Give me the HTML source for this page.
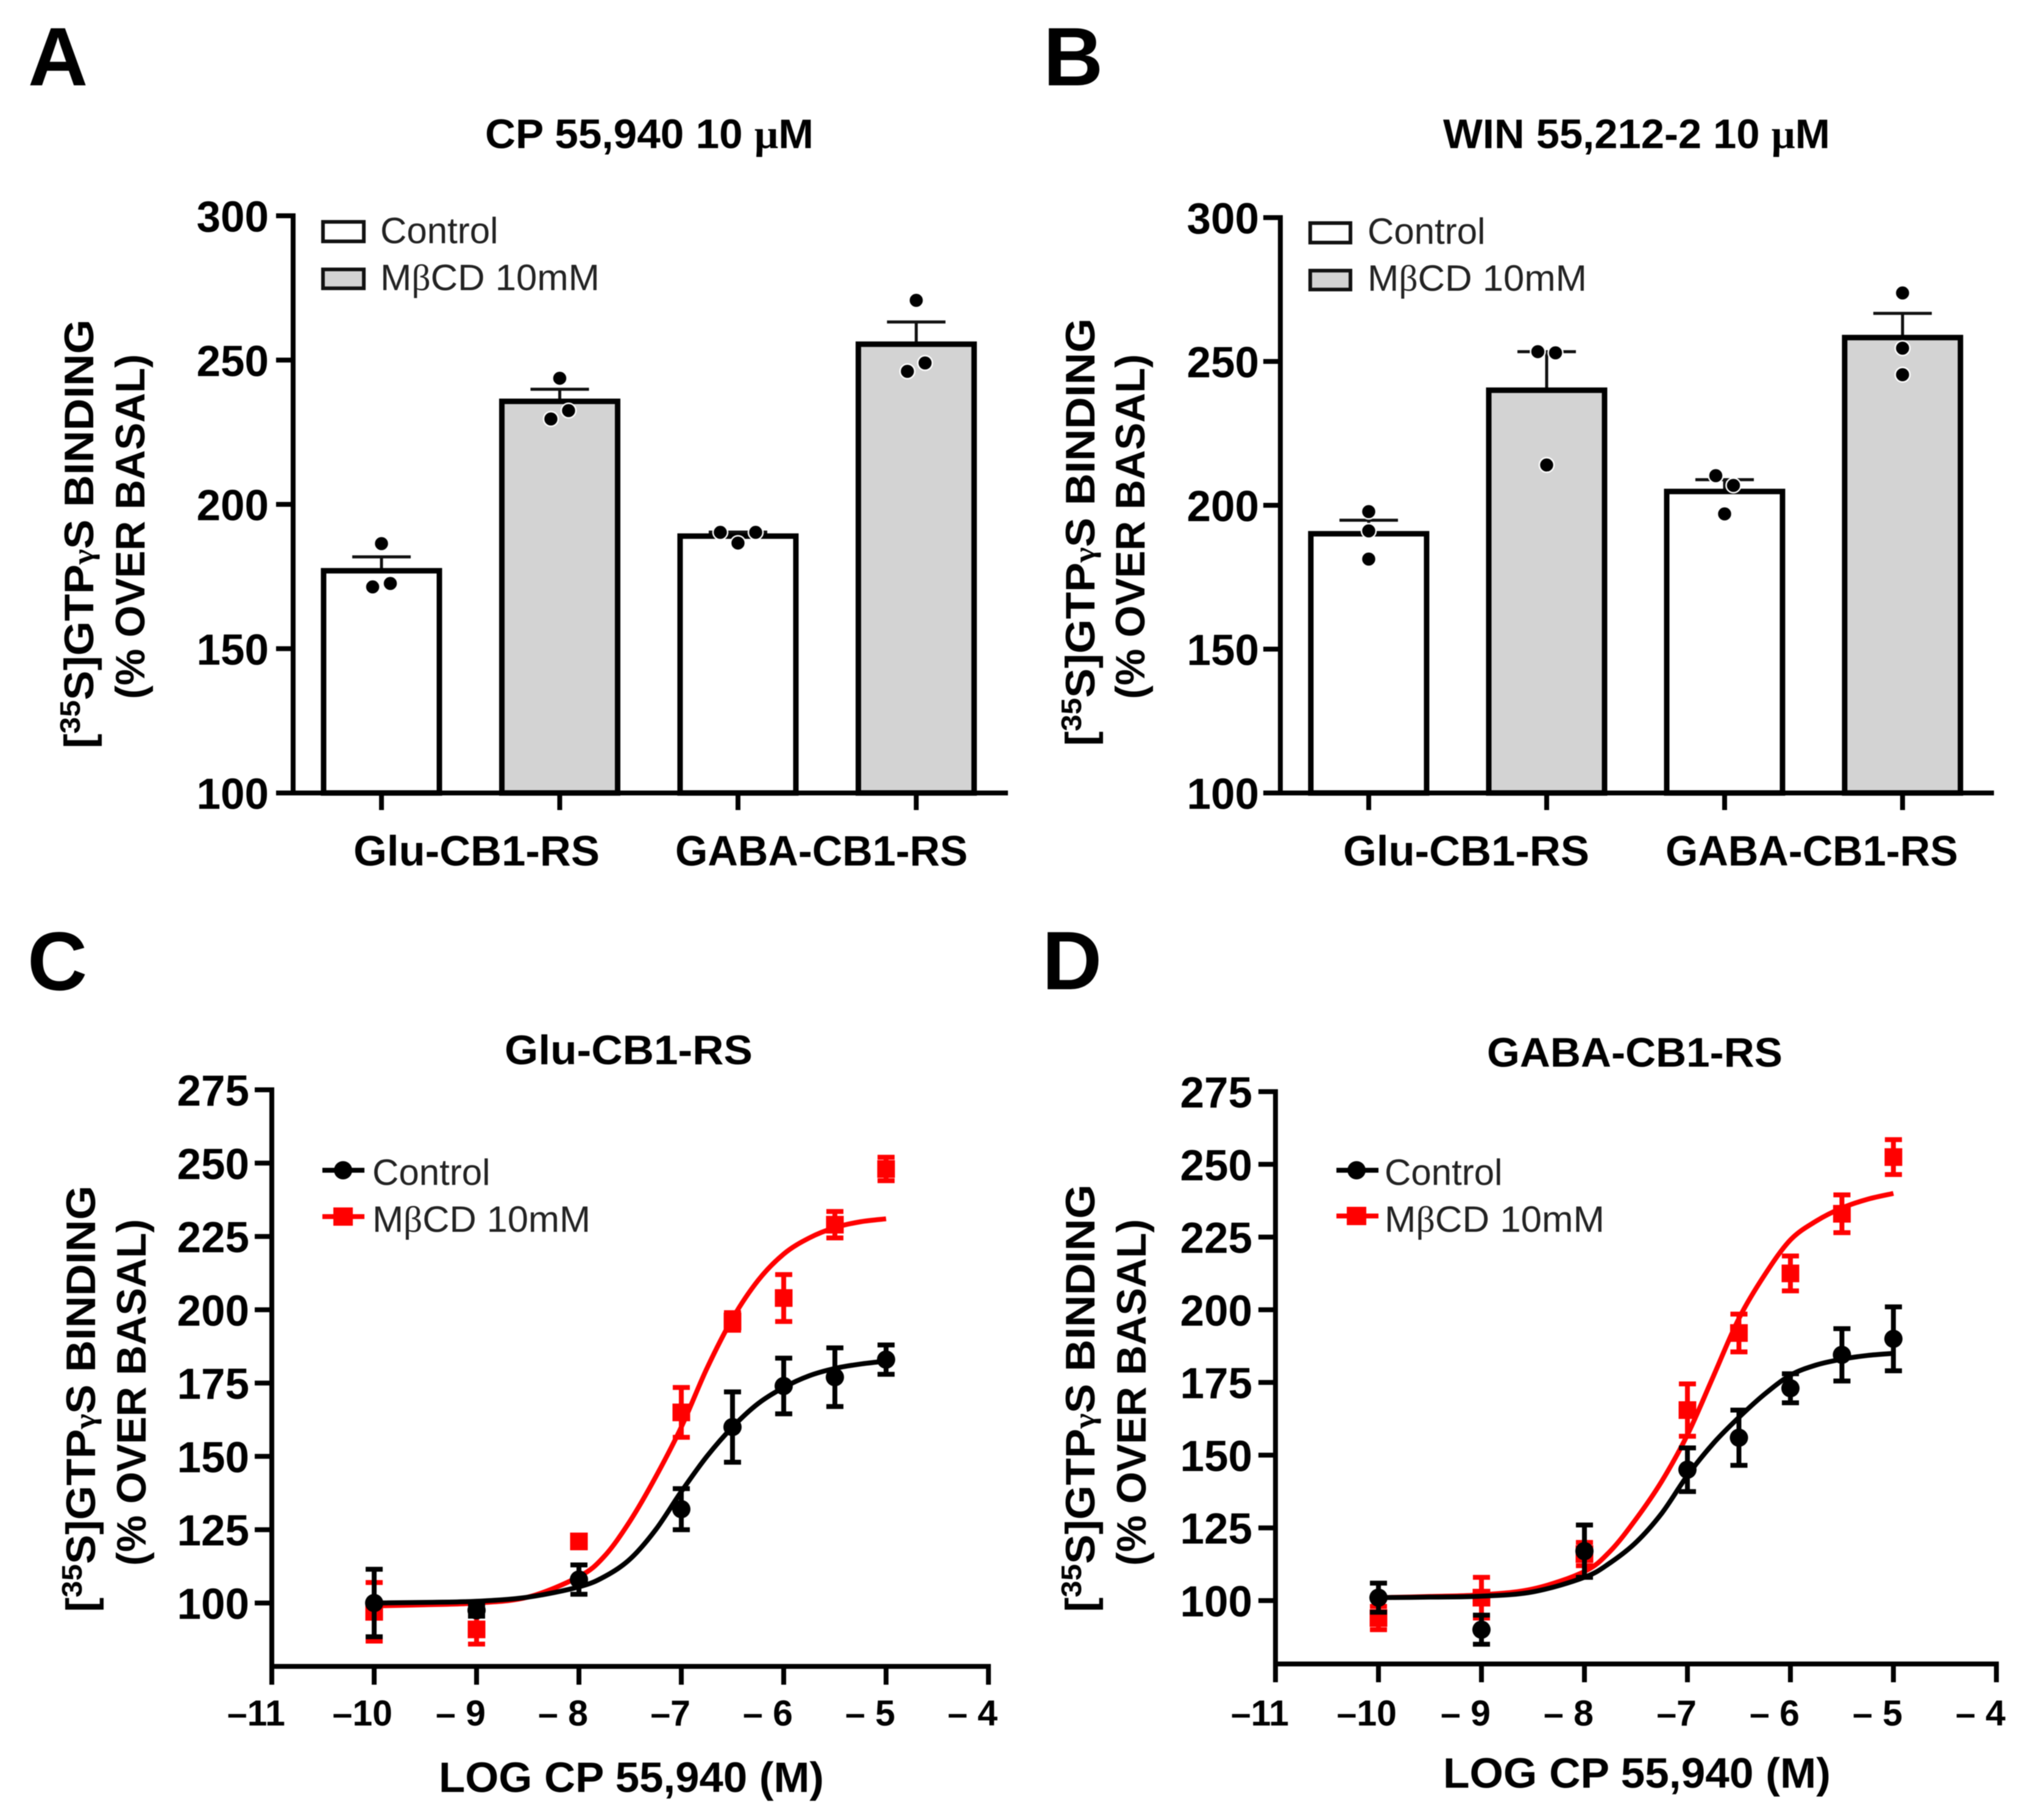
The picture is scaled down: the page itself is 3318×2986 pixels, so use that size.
<!DOCTYPE html>
<html lang="en">
<head>
<meta charset="utf-8">
<title>GTPγS binding figure</title>
<style>
html,body{margin:0;padding:0;background:#fff;}
svg{display:block;filter:blur(0.7px);}
text{font-family:"Liberation Sans",sans-serif;fill:#000;}
.b{font-weight:700;}
.s{font-family:"Liberation Serif",serif;}
</style>
</head>
<body>
<svg id="fig" xmlns="http://www.w3.org/2000/svg" width="3318" height="2986" viewBox="0 0 3318 2986">
<rect width="3318" height="2986" fill="#fff"/>
<text class="b" x="46" y="140" font-size="136">A</text>
<text class="b" x="1712" y="140" font-size="136">B</text>
<text class="b" x="45" y="1624" font-size="136">C</text>
<text class="b" x="1710" y="1623" font-size="136">D</text>

<text class="b" x="796" y="243" font-size="68" textLength="539" lengthAdjust="spacingAndGlyphs">CP 55,940 10 <tspan class="s">μ</tspan>M</text>
<text class="b" x="2368" y="243" font-size="68" textLength="635" lengthAdjust="spacingAndGlyphs">WIN 55,212-2 10 <tspan class="s">μ</tspan>M</text>
<text class="b" x="828" y="1746" font-size="68" textLength="407" lengthAdjust="spacingAndGlyphs">Glu-CB1-RS</text>
<text class="b" x="2440" y="1750" font-size="68" textLength="485" lengthAdjust="spacingAndGlyphs">GABA-CB1-RS</text>

<text class="b" transform="translate(153 1228) rotate(-90)" font-size="68" textLength="704" lengthAdjust="spacingAndGlyphs">[<tspan font-size="46" dy="-22">35</tspan><tspan dy="22">S]GTP</tspan><tspan class="s" font-size="50">γ</tspan>S BINDING</text>
<text class="b" transform="translate(237 1147) rotate(-90)" font-size="68" textLength="566" lengthAdjust="spacingAndGlyphs">(% OVER BASAL)</text>
<text class="b" transform="translate(1796 1224) rotate(-90)" font-size="68" textLength="702" lengthAdjust="spacingAndGlyphs">[<tspan font-size="46" dy="-22">35</tspan><tspan dy="22">S]GTP</tspan><tspan class="s" font-size="50">γ</tspan>S BINDING</text>
<text class="b" transform="translate(1878 1147) rotate(-90)" font-size="68" textLength="566" lengthAdjust="spacingAndGlyphs">(% OVER BASAL)</text>
<text class="b" transform="translate(156 2645) rotate(-90)" font-size="68" textLength="700" lengthAdjust="spacingAndGlyphs">[<tspan font-size="46" dy="-22">35</tspan><tspan dy="22">S]GTP</tspan><tspan class="s" font-size="50">γ</tspan>S BINDING</text>
<text class="b" transform="translate(239 2569) rotate(-90)" font-size="68" textLength="569" lengthAdjust="spacingAndGlyphs">(% OVER BASAL)</text>
<text class="b" transform="translate(1796 2645) rotate(-90)" font-size="68" textLength="702" lengthAdjust="spacingAndGlyphs">[<tspan font-size="46" dy="-22">35</tspan><tspan dy="22">S]GTP</tspan><tspan class="s" font-size="50">γ</tspan>S BINDING</text>
<text class="b" transform="translate(1880 2569) rotate(-90)" font-size="68" textLength="569" lengthAdjust="spacingAndGlyphs">(% OVER BASAL)</text>

<text class="b" x="720" y="2940" font-size="70" textLength="632" lengthAdjust="spacingAndGlyphs">LOG CP 55,940 (M)</text>
<text class="b" x="2368" y="2933" font-size="70" textLength="636" lengthAdjust="spacingAndGlyphs">LOG CP 55,940 (M)</text>

<g>
<rect x="530" y="364" width="67" height="32" fill="#fff" stroke="#111" stroke-width="6"/>
<text x="624" y="399" font-size="60" fill="#222" style="fill:#222">Control</text>
<rect x="530" y="442" width="67" height="31" fill="#d3d3d3" stroke="#111" stroke-width="6"/>
<text x="624" y="476" font-size="60" style="fill:#222" textLength="360" lengthAdjust="spacingAndGlyphs">M<tspan class="s">β</tspan>CD 10mM</text>
</g>
<g>
<rect x="2150" y="366" width="66" height="32" fill="#fff" stroke="#111" stroke-width="6"/>
<text x="2244" y="400" font-size="60" style="fill:#222">Control</text>
<rect x="2150" y="444" width="66" height="31" fill="#d3d3d3" stroke="#111" stroke-width="6"/>
<text x="2244" y="477" font-size="60" style="fill:#222" textLength="360" lengthAdjust="spacingAndGlyphs">M<tspan class="s">β</tspan>CD 10mM</text>
</g>
<g>
<line x1="529" x2="598" y1="1920" y2="1920" stroke="#000" stroke-width="8"/>
<circle cx="563" cy="1920" r="15" fill="#000"/>
<text x="611" y="1944" font-size="60" style="fill:#222">Control</text>
<line x1="529" x2="598" y1="1996" y2="1996" stroke="#f00" stroke-width="8"/>
<rect x="547" y="1981" width="32" height="30" fill="#f00"/>
<text x="611" y="2021" font-size="60" style="fill:#222" textLength="358" lengthAdjust="spacingAndGlyphs">M<tspan class="s">β</tspan>CD 10mM</text>
</g>
<g>
<line x1="2193" x2="2262" y1="1920" y2="1920" stroke="#000" stroke-width="8"/>
<circle cx="2226" cy="1920" r="15" fill="#000"/>
<text x="2272" y="1944" font-size="60" style="fill:#222">Control</text>
<line x1="2193" x2="2262" y1="1995" y2="1995" stroke="#f00" stroke-width="8"/>
<rect x="2210" y="1980" width="32" height="30" fill="#f00"/>
<text x="2272" y="2021" font-size="60" style="fill:#222" textLength="361" lengthAdjust="spacingAndGlyphs">M<tspan class="s">β</tspan>CD 10mM</text>
</g>
</svg>
<script>
// ---- Bar panels data ----
const barCategories = ['Glu Control', 'Glu MβCD', 'GABA Control', 'GABA MβCD'];
const barYTicks = [100, 150, 200, 250, 300];
const barYTickLabels = ['100', '150', '200', '250', '300'];
const barGroupLabels = ['Glu-CB1-RS', 'GABA-CB1-RS'];
const aMeans = [177, 235.7, 189, 255.5];
const aSems = [4.8, 4.2, 1.4, 7.7];
const aDots = [[186.4, 171.4, 172.6], [243.7, 229.6, 232.5], [190.3, 186.6, 190.3], [270.7, 246.1, 249]];
const aLanes = [[0, -1, 1], [0, -1, 1], [-2, 0, 2], [0, -1, 1]];
const bMeans = [190.1, 240, 204.8, 258.3];
const bSems = [4.7, 13.4, 4.1, 8.4];
const bDots = [[197.8, 191.1, 181.3], [253.4, 253, 214], [210.3, 206.9, 197], [273.8, 254.6, 245.4]];
const bLanes = [[0, 0, 0], [-1, 1, 0], [-1, 1, 0], [0, 0, 0]];

// ---- Dose-response panels data ----
const doseX = [-10, -9, -8, -7, -6.5, -6, -5.5, -5];
const doseXTicks = [-11, -10, -9, -8, -7, -6, -5, -4];
const doseXTickLabels = ['–11', '–10', '– 9', '– 8', '–7', '– 6', '– 5', '– 4'];
const doseYTicks = [100, 125, 150, 175, 200, 225, 250, 275];
const doseYTickLabels = ['100', '125', '150', '175', '200', '225', '250', '275'];
const fitX = [-10, -9.5, -9, -8.5, -8, -7.75, -7.5, -7.25, -7, -6.75, -6.5, -6.25, -6, -5.75, -5.5, -5.25, -5];
const cControlMeans = [100, 97.5, 108, 132, 160, 174, 177, 183];
const cControlSems = [11.5, 2, 5, 7, 12, 9.5, 10, 5];
const cMbcdMeans = [97, 91, 121, 165, 196, 204, 229, 248];
const cMbcdSems = [10, 5, 1, 8.5, 3, 8, 4.5, 4];
const cControlFit = [100, 100.2, 100.6, 102, 105.5, 109, 115, 125, 138, 150, 160, 168, 173.5, 177.5, 180, 181.5, 182.5];
const cMbcdFit = [99, 99.4, 100, 102, 109, 116, 128, 143, 160, 180, 197, 210, 219, 224.5, 228, 230, 231];
const dControlMeans = [101, 90, 117, 145, 156, 173, 184.5, 190];
const dControlSems = [5, 5, 9, 7.5, 9.5, 5, 9, 11];
const dMbcdMeans = [94, 101, 116, 165.5, 192, 212.5, 233, 252.5];
const dMbcdSems = [4, 7, 4, 9, 6.5, 6, 6.5, 6];
const dControlFit = [101, 101.2, 101.5, 103, 108, 113, 120, 130, 143, 154, 163, 171, 177.5, 181, 183, 184.3, 185];
const dMbcdFit = [101, 101.4, 102, 104, 110, 117, 128, 141, 157, 177, 197, 212, 224, 230.5, 235, 238, 240];

const NS = 'http://www.w3.org/2000/svg';
const svg = document.getElementById('fig');

function mk(tag, attrs, parent) {
  const n = document.createElementNS(NS, tag);
  for (const k in attrs) n.setAttribute(k, attrs[k]);
  parent.appendChild(n);
  return n;
}

function linear(d0, d1, r0, r1) {
  return function (v) { return r0 + (v - d0) * (r1 - r0) / (d1 - d0); };
}

function smoothPath(pts) {
  let d = 'M' + pts[0][0].toFixed(1) + ' ' + pts[0][1].toFixed(1);
  for (let i = 0; i < pts.length - 1; i++) {
    const p0 = pts[Math.max(i - 1, 0)], p1 = pts[i], p2 = pts[i + 1], p3 = pts[Math.min(i + 2, pts.length - 1)];
    const c1x = p1[0] + (p2[0] - p0[0]) / 6, c1y = p1[1] + (p2[1] - p0[1]) / 6;
    const c2x = p2[0] - (p3[0] - p1[0]) / 6, c2y = p2[1] - (p3[1] - p1[1]) / 6;
    d += 'C' + c1x.toFixed(1) + ' ' + c1y.toFixed(1) + ' ' + c2x.toFixed(1) + ' ' + c2y.toFixed(1) + ' ' + p2[0].toFixed(1) + ' ' + p2[1].toFixed(1);
  }
  return d;
}

function drawYAxis(g, y, ticks, labels, axisX, top, bottom, labelRight) {
  const axis = mk('line', { x1: axisX, x2: axisX, y1: top, y2: bottom, stroke: '#000', 'stroke-width': 8, 'stroke-linecap': 'square' }, g);
  
  
  ticks.forEach(function (t, i) {
    const tick = mk('line', { x1: axisX - 28, x2: axisX, y1: y(t), y2: y(t), stroke: '#000', 'stroke-width': 8 }, g);
    
    
    const lab = mk('text', { x: labelRight, y: y(t) + 26, 'font-size': 71, 'font-weight': 700, 'text-anchor': 'end' }, g);
    
    
    lab.textContent = labels[i];
  });
}

function drawBarPanel(name, means, sems, dots, lanes, o) {
  const g = mk('g', {}, svg);
  
  
  const y = linear(100, 300, o.y100, o.y300);
  const x = function (i) { return o.x0 + i * o.step; };
  means.forEach(function (m, i) {
    const top = y(m + sems[i]);
    const stem = mk('line', { x1: x(i), x2: x(i), y1: y(m), y2: top, stroke: '#111', 'stroke-width': 5 }, g);
    
    
    const cap = mk('line', { x1: x(i) - 48, x2: x(i) + 48, y1: top, y2: top, stroke: '#111', 'stroke-width': 5 }, g);
    
    
    const bar = mk('rect', { x: x(i) - 95, y: y(m), width: 190, height: o.y100 - y(m), fill: i % 2 ? '#d3d3d3' : '#fff', stroke: '#000', 'stroke-width': 9 }, g);
    
    
  });
  dots.forEach(function (set, i) {
    set.forEach(function (v, j) {
      const dot = mk('circle', { cx: x(i) + lanes[i][j] * 14.5, cy: y(v), r: 12, fill: '#000', stroke: '#fff', 'stroke-width': 2.5 }, g);
      
      
    });
  });
  drawYAxis(g, y, barYTicks, barYTickLabels, o.axisX, o.y300, o.y100, o.labelRight);
  const xAxis = mk('line', { x1: o.axisX, x2: o.xEnd, y1: o.y100, y2: o.y100, stroke: '#000', 'stroke-width': 8 }, g);
  
  
  means.forEach(function (m, i) {
    const tick = mk('line', { x1: x(i), x2: x(i), y1: o.y100, y2: o.y100 + 28, stroke: '#000', 'stroke-width': 8 }, g);
    
    
  });
  barGroupLabels.forEach(function (t, i) {
    const lab = mk('text', { x: o.groupX[i], y: 1420, 'font-size': 70, 'font-weight': 700, 'text-anchor': 'middle', textLength: o.groupW[i], lengthAdjust: 'spacingAndGlyphs' }, g);
    
    
    lab.textContent = t;
  });
}

function drawSeries(g, x, y, means, sems, fit, color, square, label) {
  const curve = mk('path', { d: smoothPath(fitX.map(function (v, i) { return [x(v), y(fit[i])]; })), fill: 'none', stroke: color, 'stroke-width': 8 }, g);
  
  
  doseX.forEach(function (v, i) {
    const cx = x(v), cy = y(means[i]), hi = y(means[i] + sems[i]), lo = y(means[i] - sems[i]);
    const err = mk('path', { d: 'M' + (cx - 14) + ' ' + hi + 'H' + (cx + 14) + 'M' + cx + ' ' + hi + 'V' + lo + 'M' + (cx - 14) + ' ' + lo + 'H' + (cx + 14), fill: 'none', stroke: color, 'stroke-width': 8 }, g);
    
    
    let m;
    if (square) {
      m = mk('rect', { x: cx - 14.5, y: cy - 14.5, width: 29, height: 29, fill: color }, g);
    } else {
      m = mk('circle', { cx: cx, cy: cy, r: 15, fill: color }, g);
    }
    
    
  });
}

function drawDosePanel(name, cm, cs, cf, rm, rs, rf, o) {
  const g = mk('g', {}, svg);
  
  
  const x = linear(-11, -4, o.xLeft, o.xRight);
  const y = linear(100, 275, o.y100, o.y275);
  drawYAxis(g, y, doseYTicks, doseYTickLabels, o.xLeft, o.y275, o.axisY, o.labelRight);
  const xAxis = mk('line', { x1: o.xLeft, x2: o.xRight, y1: o.axisY, y2: o.axisY, stroke: '#000', 'stroke-width': 8, 'stroke-linecap': 'square' }, g);
  
  
  doseXTicks.forEach(function (t, i) {
    const tick = mk('line', { x1: x(t), x2: x(t), y1: o.axisY, y2: o.axisY + 30, stroke: '#000', 'stroke-width': 8 }, g);
    
    
    const digits = String(Math.abs(t)).length;
    const lab = mk('text', { x: x(t) + digits * 15 - (t === -11 ? 8 : 0), y: 2831, 'font-size': 59, 'font-weight': 700, 'text-anchor': 'end' }, g);
    
    
    lab.textContent = doseXTickLabels[i];
  });
  drawSeries(g, x, y, rm, rs, rf, '#f00', true, 'mbcd');
  drawSeries(g, x, y, cm, cs, cf, '#000', false, 'control');
}

drawBarPanel('a', aMeans, aSems, aDots, aLanes, { y100: 1301, y300: 354, x0: 626, step: 292.5, axisX: 481, xEnd: 1654, labelRight: 441, groupX: [782, 1348], groupW: [404, 480] });
drawBarPanel('b', bMeans, bSems, bDots, bLanes, { y100: 1301, y300: 357, x0: 2246, step: 292, axisX: 2101, xEnd: 3272, labelRight: 2066, groupX: [2406, 2973], groupW: [404, 480] });
drawDosePanel('c', cControlMeans, cControlSems, cControlFit, cMbcdMeans, cMbcdSems, cMbcdFit, { xLeft: 446, xRight: 1622, y100: 2630, y275: 1788, axisY: 2734, labelRight: 409 });
drawDosePanel('d', dControlMeans, dControlSems, dControlFit, dMbcdMeans, dMbcdSems, dMbcdFit, { xLeft: 2093, xRight: 3276, y100: 2626, y275: 1791, axisY: 2730, labelRight: 2055 });
</script>
</body>
</html>
